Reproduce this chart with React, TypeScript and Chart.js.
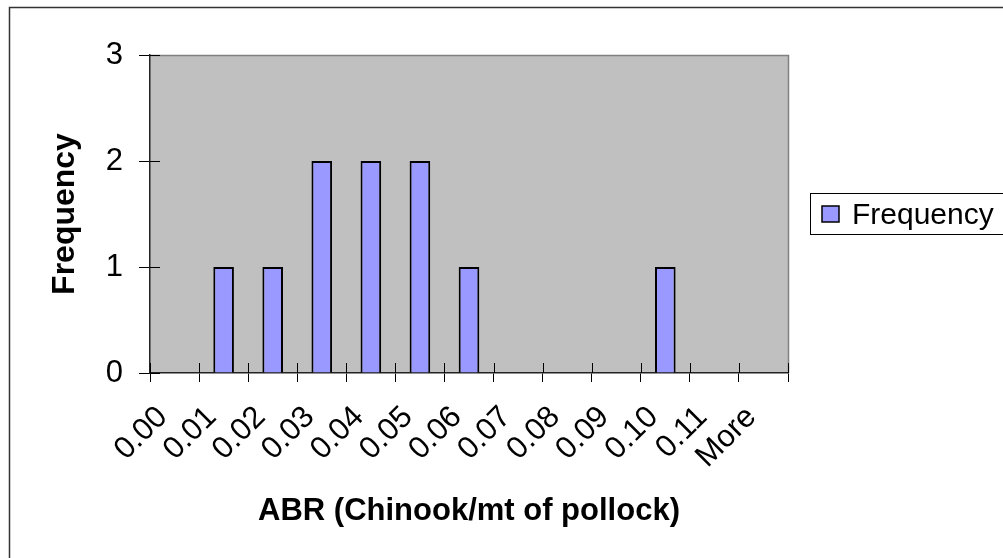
import React, { useEffect, useRef } from "react";
import { Chart, registerables } from "chart.js";

Chart.register(...registerables);

const categories = ["0.00", "0.01", "0.02", "0.03", "0.04", "0.05", "0.06", "0.07", "0.08", "0.09", "0.10", "0.11", "More"];
const frequency = [0, 1, 1, 2, 2, 2, 1, 0, 0, 0, 1, 0, 0];
const yTicks = [0, 1, 2, 3];
const seriesName = "Frequency";
const xTitle = "ABR (Chinook/mt of pollock)";
const yTitle = "Frequency";

const FONT = "'Liberation Sans', Arial, sans-serif";

const decorPlugin = {
  id: "decor",
  beforeDraw(chart: any) {
    const { ctx, chartArea } = chart;
    ctx.save();
    ctx.fillStyle = "#ffffff";
    ctx.fillRect(0, 0, chart.width, chart.height);
    ctx.strokeStyle = "#333333";
    ctx.lineWidth = 1.5;
    ctx.beginPath();
    ctx.moveTo(9.5, chart.height + 5);
    ctx.lineTo(9.5, 7.5);
    ctx.lineTo(chart.width + 5, 7.5);
    ctx.stroke();
    ctx.fillStyle = "#C0C0C0";
    ctx.fillRect(chartArea.left, chartArea.top, chartArea.right - chartArea.left, chartArea.bottom - chartArea.top);
    ctx.strokeStyle = "#808080";
    ctx.lineWidth = 1.5;
    ctx.beginPath();
    ctx.moveTo(chartArea.left, chartArea.top + 0.5);
    ctx.lineTo(chartArea.right + 0.5, chartArea.top + 0.5);
    ctx.lineTo(chartArea.right + 0.5, chartArea.bottom);
    ctx.stroke();
    ctx.restore();
  },
  afterDraw(chart: any) {
    const { ctx, chartArea, scales } = chart;
    ctx.save();
    ctx.strokeStyle = "#000000";
    ctx.lineWidth = 1;
    yTicks.forEach((v) => {
      const y = Math.round(scales.y.getPixelForValue(v)) + 0.5;
      ctx.beginPath();
      ctx.moveTo(chartArea.left, y);
      ctx.lineTo(chartArea.left + 10, y);
      ctx.stroke();
    });
    const step = scales.x.getPixelForValue(1) - scales.x.getPixelForValue(0);
    for (let i = 0; i <= categories.length; i++) {
      const p = i < categories.length ? scales.x.getPixelForValue(i) - step / 2 : chartArea.right;
      const x = Math.round(p) + 0.5;
      ctx.beginPath();
      ctx.moveTo(x, chartArea.bottom - 10);
      ctx.lineTo(x, chartArea.bottom);
      ctx.stroke();
    }
    const ds = chart.data.datasets[0];
    ctx.strokeStyle = "#000000";
    ctx.lineWidth = 1;
    ctx.strokeRect(810.5, 193.5, 300, 41);
    ctx.fillStyle = ds.backgroundColor;
    ctx.fillRect(822, 206, 17, 16);
    ctx.lineWidth = 1.5;
    ctx.strokeRect(822, 206, 17, 16);
    ctx.fillStyle = "#000000";
    ctx.font = `30px ${FONT}`;
    ctx.textBaseline = "alphabetic";
    ctx.textAlign = "left";
    ctx.fillText(ds.label, 852, 224);
    ctx.restore();
  },
};

export default function App() {
  const ref = useRef<HTMLCanvasElement | null>(null);
  useEffect(() => {
    document.body.style.margin = "0";
    const canvas = ref.current;
    if (!canvas) return;
    const chart = new Chart(canvas, {
      type: "bar",
      data: {
        labels: categories,
        datasets: [
          {
            label: seriesName,
            data: frequency,
            backgroundColor: "#9999FF",
            borderColor: "#000000",
            borderWidth: 2,
            categoryPercentage: 1,
            barPercentage: 0.42,
          },
        ],
      },
      options: {
        responsive: false,
        animation: false,
        layout: { padding: { left: 0, top: 55, right: 215, bottom: 0 } },
        plugins: { legend: { display: false }, tooltip: { enabled: false } },
        scales: {
          x: {
            offset: true,
            grid: { offset: true, drawOnChartArea: false, drawTicks: true, tickLength: 9, color: "#000000", lineWidth: 1 },
            border: { display: true, color: "#222222", width: 1.5 },
            ticks: {
              autoSkip: false,
              minRotation: 45,
              maxRotation: 45,
              labelOffset: -12,
              padding: 17,
              color: "#000000",
              font: { family: FONT, size: 31 },
            },
            title: {
              display: true,
              text: xTitle,
              color: "#000000",
              font: { family: FONT, size: 31, weight: "bold" },
              padding: { top: 4, bottom: 28 },
            },
            afterFit(scale: any) {
              scale.height = 185;
            },
          },
          y: {
            min: 0,
            max: 3,
            afterBuildTicks(scale: any) {
              scale.ticks = yTicks.map((v) => ({ value: v }));
            },
            grid: { drawOnChartArea: false, drawTicks: true, tickLength: 11, color: "#000000", lineWidth: 1 },
            border: { display: true, color: "#222222", width: 1.5 },
            ticks: {
              padding: 16,
              color: "#000000",
              font: { family: FONT, size: 31 },
            },
            title: {
              display: true,
              text: yTitle,
              color: "#000000",
              font: { family: FONT, size: 32, weight: "bold" },
              padding: { top: 46, bottom: 0 },
            },
            afterFit(scale: any) {
              scale.width = 150;
            },
          },
        },
      },
      plugins: [decorPlugin],
    });
    return () => chart.destroy();
  }, []);
  return (
    <div style={{ width: 1003, height: 558, overflow: "hidden" }}>
      <canvas ref={ref} width={1003} height={558} style={{ display: "block" }} />
    </div>
  );
}
